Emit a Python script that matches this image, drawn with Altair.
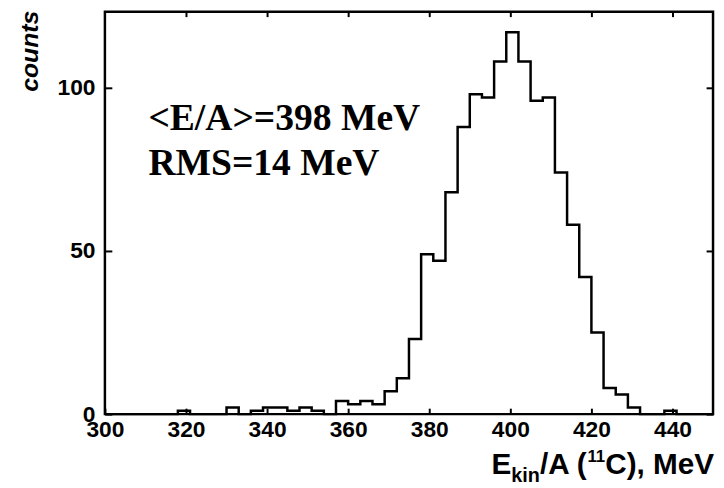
import altair as alt
import pandas as pd

# Histogram: 3 MeV bins from 300 to 450 MeV/u
bin_starts = list(range(300, 450, 3))
counts = [0, 0, 0, 0, 0, 0, 1, 0, 0, 0,
          2, 0, 1, 2, 2, 1, 2, 1, 0, 4,
          3, 4, 3, 7, 11, 23, 49, 47, 68, 88,
          98, 97, 108, 117, 108, 96, 97, 74, 58, 42,
          25, 8, 6, 2, 0, 0, 1, 0, 0, 0]
x_label_values = [300, 320, 340, 360, 380, 400, 420, 440]
x_tick_values = [320, 340, 360, 380, 400, 420, 440]
y_tick_values = [0, 50, 100]
annotation_lines = ["<E/A>=398 MeV", "RMS=14 MeV"]

edges = bin_starts + [450]
vals = counts + [counts[-1]]
df = pd.DataFrame({"E": edges, "N": vals})

W, H = 615, 407
OX, OY = 106, 9  # plot origin on the page

xs = alt.Scale(domain=[300, 450], nice=False, zero=False)
ys = alt.Scale(domain=[0, 123.3], nice=False, zero=True)

lab = dict(labelFont="Liberation Sans", labelFontWeight="bold", labelFontSize=23,
           labelColor="black", tickColor="black", tickWidth=2, grid=False,
           domain=False, title=None)

hist = alt.Chart(df).mark_line(interpolate="step-after", color="black", strokeWidth=2.5).encode(
    x=alt.X("E:Q", scale=xs, axis=alt.Axis(orient="bottom", values=x_label_values,
                                           tickSize=6, offset=-6, labelPadding=5,
                                           labelFlush=False, **lab)),
    y=alt.Y("N:Q", scale=ys, axis=alt.Axis(orient="left", values=y_tick_values,
                                           tickSize=7, offset=-7, labelPadding=10, **lab)),
)

mirror = alt.Chart(df).mark_line(opacity=0).encode(
    x=alt.X("E:Q", scale=xs, axis=alt.Axis(orient="top", values=x_tick_values, labels=False,
                                           tickSize=5, offset=-5, **lab)),
    y=alt.Y("N:Q", scale=ys, axis=alt.Axis(orient="right", values=y_tick_values, labels=False,
                                           tickSize=7, offset=-7, **lab)),
)


def txt(s, px, py, size, font="Liberation Sans", style="normal", angle=0, align="left", baseline="alphabetic"):
    return alt.Chart(pd.DataFrame({"t": [s]})).mark_text(
        font=font, fontSize=size, fontWeight="bold", fontStyle=style, angle=angle,
        align=align, baseline=baseline, color="black"
    ).encode(text="t:N", x=alt.value(px - OX), y=alt.value(py - OY))


texts = [
    txt("counts", 30, 49, 25, style="italic", angle=270, align="center", baseline="middle"),
    txt(annotation_lines[0], 150, 129, 38, font="Liberation Serif"),
    txt(annotation_lines[1], 150, 174, 38, font="Liberation Serif"),
    # x-axis title: E_kin/A (^11C), MeV
    txt("E", 497, 477, 30),
    txt("kin", 517, 485, 20),
    txt("/A (", 546, 477, 30),
    txt("11", 594, 464, 17),
    txt("C), MeV", 612, 477, 30),
]

chart = alt.layer(hist, mirror, *texts).resolve_axis(x="independent", y="independent").properties(
    width=W, height=H,
    autosize=alt.AutoSizeParams(type="none"),
    padding={"left": OX - 8, "top": OY - 8, "right": 3, "bottom": 72},
).configure_view(stroke="black", strokeWidth=2.5)

chart.save("out.html", embed_options={"renderer": "svg", "actions": False})
